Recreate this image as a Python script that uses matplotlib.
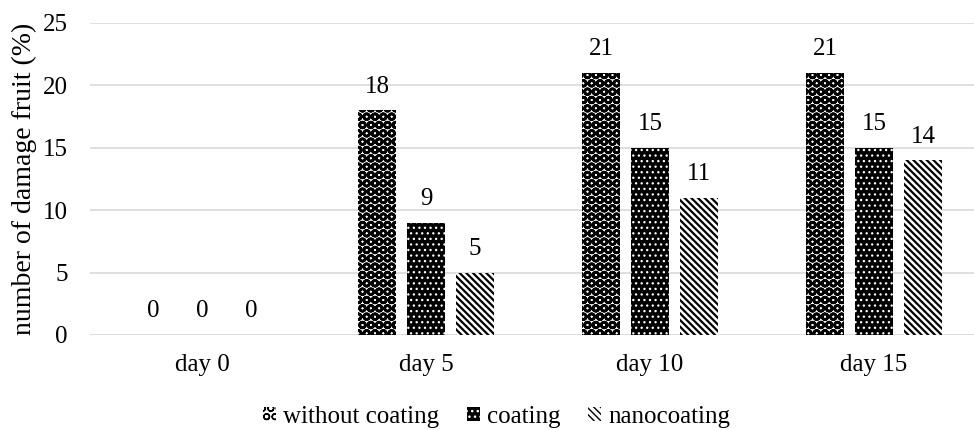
import numpy as np
import matplotlib
matplotlib.use("Agg")
import matplotlib.pyplot as plt

days = ["day 0", "day 5", "day 10", "day 15"]
without_coating = [0, 18, 21, 21]
coating = [0, 9, 15, 15]
nanocoating = [0, 5, 11, 14]

plt.rcParams['font.family'] = ['Liberation Serif', 'DejaVu Serif']
plt.rcParams['font.size'] = 18
plt.rcParams['hatch.linewidth'] = 1.6

fig = plt.figure(figsize=(9.74, 4.30), dpi=100)
ax = fig.add_axes([0.0924, 0.221, 0.9076, 0.7256])

x = np.arange(len(days))
w = 0.17
step = 0.219

series = [
    ("without coating", without_coating, dict(facecolor="white", edgecolor="black", hatch="OO"), 1.9),
    ("coating", coating, dict(facecolor="black", edgecolor="white", hatch="..."), 0.9),
    ("nanocoating", nanocoating, dict(facecolor="white", edgecolor="black", hatch="\\\\\\\\\\"), 1.6),
]

for i, (name, vals, style, hlw) in enumerate(series):
    bars = ax.bar(x + (i - 1) * step, vals, w, label=name, linewidth=0, **style)
    for b, v in zip(bars, vals):
        if hasattr(b, "set_hatch_linewidth"):
            b.set_hatch_linewidth(hlw)
        ax.annotate(str(v), (b.get_x() + b.get_width() / 2, v),
                    xytext=(0, 9), textcoords="offset points",
                    ha="center", va="bottom", fontsize=18)

ax.set_xlim(-0.5, -0.5 + 884 / 224)
ax.set_ylim(0, 25)
ax.set_yticks([0, 5, 10, 15, 20, 25])
ax.set_xticks(x)
ax.set_xticklabels(days)
ax.yaxis.grid(True, color="#d9d9d9", linewidth=1.2)
ax.set_axisbelow(True)
for s in ax.spines.values():
    s.set_visible(False)
ax.tick_params(length=0, pad=14)
ax.tick_params(axis="y", pad=16)
ax.set_ylabel("number of damage fruit (%)", fontsize=20, labelpad=4)

leg = fig.legend(loc="center", bbox_to_anchor=(0.51, 0.03), ncol=3, frameon=False,
                 handlelength=0.5, handleheight=0.5, handletextpad=0.3, columnspacing=1.1,
                 fontsize=18)
for h in leg.legend_handles:
    if hasattr(h, "set_hatch_linewidth"):
        h.set_hatch_linewidth(1.0)

fig.savefig("out.png", dpi=100)
